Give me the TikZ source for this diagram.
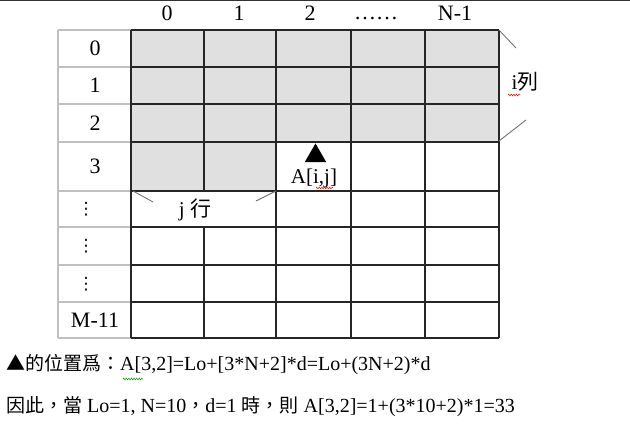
\documentclass[tikz,border=0pt]{standalone}
\usepackage{fontspec}
\setmainfont{Liberation Serif}
\newfontfamily\cjk{Noto Sans CJK TC}
\newfontfamily\sym{DejaVu Sans}
\usetikzlibrary{positioning, shapes.geometric, decorations.pathmorphing}
\definecolor{cellgray}{RGB}{224, 224, 224}
\definecolor{rulegray}{RGB}{192, 192, 192}
\newcommand{\zh}[1]{{\cjk #1}}

\begin{document}
\begin{tikzpicture}[x=1pt, y=-1pt]
        \tikzstyle{idx} = [inner sep=0pt, font=\fontsize{22}{22}\selectfont]
        \tikzstyle{vdot} = [inner sep=0pt, font=\sym\fontsize{17}{17}\selectfont]
        \tikzstyle{note} = [inner sep=0pt, anchor=west, font=\fontsize{20}{20}\selectfont]
        \tikzstyle{cell} = [line width=1.1pt, black!85]
        \tikzstyle{side} = [line width=1.1pt, rulegray]
        \tikzstyle{brace} = [line width=0.9pt, black!55]
        \tikzstyle{spell} = [line width=0.5pt, decorate, decoration={zigzag, amplitude=0.9pt, segment length=2.6pt}]

        \useasboundingbox (0,0) rectangle (630,433);
        \draw [line width=1.5pt, black!80] (0,0.7) -- (630,0.7);

        % shaded part of the array
        \fill [cellgray] (131,30) rectangle (499,142);
        \fill [cellgray] (131,142) rectangle (276,191);

        % index column
        \foreach \y in {30,67,104,142,191,227,265,302,338} \draw [side] (58,\y) -- (131,\y);
        \draw [side] (58,30) -- (58,338);

        % array cells
        \foreach \y in {30,67,104,142,191,227,265,302,338} \draw [cell] (131,\y) -- (499,\y);
        \foreach \x in {131,276,351,425,499} \draw [cell] (\x,30) -- (\x,338);
        \draw [cell] (204,30) -- (204,191);
        \draw [cell] (204,227) -- (204,338);

        % column indices
        \node (c0) [idx] at (167,13) {0};
        \node (c1) [idx] at (239,13) {1};
        \node (c2) [idx] at (310,13) {2};
        \node (cdots) [idx, anchor=base] at (376,20) {……};
        \node (cn) [idx] at (455,13) {N-1};

        % row indices
        \node (r0) [idx] at (95,48) {0};
        \node (r1) [idx] at (95,85) {1};
        \node (r2) [idx] at (95,123) {2};
        \node (r3) [idx] at (95,166) {3};
        \node (r4) [vdot] at (86,209) {⋮};
        \node (r5) [vdot] at (86,246) {⋮};
        \node (r6) [vdot] at (86,284) {⋮};
        \node (rm) [idx] at (95,320) {M-11};

        % i rows bracket
        \coordinate (itop) at (499,30);
        \coordinate (ibot) at (499,141);
        \coordinate (itopend) at (516,48);
        \coordinate (ibotend) at (526,120);
        \draw [brace] (itop) -- (itopend);
        \draw [brace] (ibot) -- (ibotend);
        \node (ilabel) [idx, font=\fontsize{21}{21}\selectfont] at (525,82) {i\zh{列}};
        \draw [spell, red] (508,95) -- (520,95);

        % j columns bracket
        \coordinate (jleft) at (133,191);
        \coordinate (jright) at (276,191);
        \coordinate (jleftend) at (153,202);
        \coordinate (jrightend) at (256,201);
        \draw [brace] (jleft) -- (jleftend);
        \draw [brace] (jright) -- (jrightend);
        \node (jlabel) [idx, font=\fontsize{21}{21}\selectfont] at (195,210) {j \zh{行}};

        % the element A[i,j]
        \node (mark) [regular polygon, regular polygon sides=3, fill=black, inner sep=0pt, minimum size=25pt] at (315.5,156) {};
        \node (elem) [idx, font=\fontsize{21}{21}\selectfont] at (314,178) {A[i,j]};
        \draw [spell, red] (316,188) -- (333,188);

        % formulas
        \node (note1) [note] at (6,365) {\zh{\fontsize{19}{19}\selectfont ▲的位置爲：}A[3,2]=Lo+[3*N+2]*d=Lo+(3N+2)*d};
        \draw [spell, green!60!black] (123,379) -- (143,379);
        \node (note2) [note] at (6,407) {\zh{\fontsize{19}{19}\selectfont 因此，當} Lo=1, N=10\zh{\fontsize{19}{19}\selectfont ，}d=1 \zh{\fontsize{19}{19}\selectfont 時，則} A[3,2]=1+(3*10+2)*1=33};
\end{tikzpicture}
\end{document}
